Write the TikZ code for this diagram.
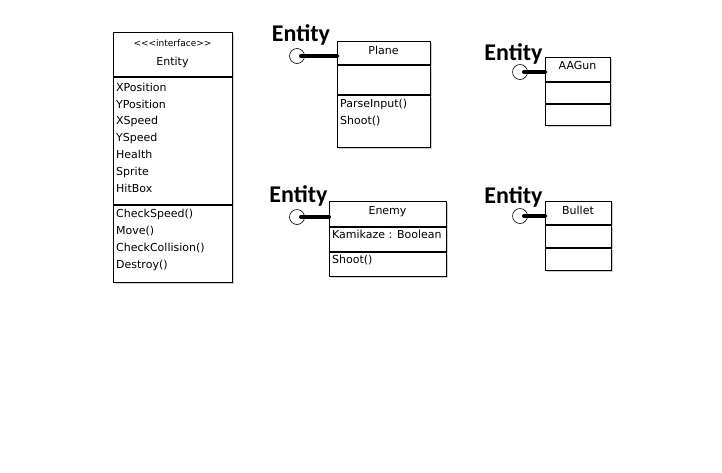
\documentclass[tikz,border=0pt]{standalone}
\usepackage{fontspec}
\setmainfont{DejaVu Sans}
\newfontfamily\entityfont{Carlito}
\usetikzlibrary{positioning,shadows}

\tikzset{
  part/.style={draw, line width=0.8pt, fill=white, rectangle, inner sep=0pt,
    drop shadow={shadow xshift=1.5pt, shadow yshift=-1.5pt, fill=black!40}},
  txt/.style={anchor=base west, inner sep=0pt, align=left},
  title/.style={anchor=base, inner sep=0pt},
  ball/.style={draw, line width=0.6pt, circle, fill=white, minimum size=15pt, inner sep=0pt},
  stick/.style={line width=4pt, line cap=round},
  entitytag/.style={anchor=base, inner sep=0pt, font=\entityfont\bfseries\fontsize{24}{28}\selectfont}
}

\begin{document}
\begin{tikzpicture}[x=1pt,y=-1pt,font=\fontsize{11}{16.8}\selectfont]
\useasboundingbox (0,0) rectangle (722,472);

% interface Entity
\node(IfaceHead)[part, minimum width=119, minimum height=44, anchor=north west] at (113,32) {};
\node(IfaceAttr)[part, minimum width=119, minimum height=127, below=0pt of IfaceHead] {};
\node(IfaceOps)[part, minimum width=119, minimum height=77, below=0pt of IfaceAttr] {};
\node(IfaceStereo)[title, font=\fontsize{9}{10}\selectfont] at (172.5,46)
  {<\kern0pt<\kern0pt<interface>\kern0pt>};
\node(IfaceName)[title] at (172.5,65) {Entity};
\node(IfaceAttrTxt)[txt] at (116,192)
  {XPosition\\YPosition\\XSpeed\\YSpeed\\Health\\Sprite\\HitBox};
\node(IfaceOpsTxt)[txt] at (116,268)
  {CheckSpeed()\\Move()\\CheckCollision()\\Destroy()};

% Plane
\node(PlaneHead)[part, minimum width=93, minimum height=23, anchor=north west] at (337,41) {};
\node(PlaneAttr)[part, minimum width=93, minimum height=29, below=0pt of PlaneHead] {};
\node(PlaneOps)[part, minimum width=93, minimum height=52, below=0pt of PlaneAttr] {};
\node(PlaneName)[title] at (383.5,54) {Plane};
\node(PlaneOpsTxt)[txt] at (340,124) {ParseInput()\\Shoot()};
\node(PlaneBall)[ball] at (297,56) {};
\node(PlaneTag)[entitytag] at (301,41) {Entity};
\draw[stick] ([xshift=4pt]PlaneBall.center) -- (PlaneBall -| PlaneHead.west);

% AAGun
\node(GunHead)[part, minimum width=65, minimum height=24, anchor=north west] at (545,57) {};
\node(GunAttr)[part, minimum width=65, minimum height=21, below=0pt of GunHead] {};
\node(GunOps)[part, minimum width=65, minimum height=21, below=0pt of GunAttr] {};
\node(GunName)[title] at (577.5,69) {AAGun};
\node(GunBall)[ball] at (520,72) {};
\node(GunTag)[entitytag] at (513.5,60) {Entity};
\draw[stick] ([xshift=4pt]GunBall.center) -- (GunBall -| GunHead.west);

% Enemy
\node(EnemyHead)[part, minimum width=117, minimum height=25, anchor=north west] at (329,201) {};
\node(EnemyAttr)[part, minimum width=117, minimum height=24, below=0pt of EnemyHead] {};
\node(EnemyOps)[part, minimum width=117, minimum height=24, below=0pt of EnemyAttr] {};
\node(EnemyName)[title] at (387.5,214) {Enemy};
\node(EnemyAttrTxt)[txt] at (332,238) {Kamikaze : Boolean};
\node(EnemyOpsTxt)[txt] at (332,263) {Shoot()};
\node(EnemyBall)[ball] at (297,217) {};
\node(EnemyTag)[entitytag] at (298.5,202) {Entity};
\draw[stick] ([xshift=4pt]EnemyBall.center) -- (EnemyBall -| EnemyHead.west);

% Bullet
\node(BulletHead)[part, minimum width=66, minimum height=23, anchor=north west] at (545,201) {};
\node(BulletAttr)[part, minimum width=66, minimum height=22, below=0pt of BulletHead] {};
\node(BulletOps)[part, minimum width=66, minimum height=22, below=0pt of BulletAttr] {};
\node(BulletName)[title] at (578,214) {Bullet};
\node(BulletBall)[ball] at (520,216) {};
\node(BulletTag)[entitytag] at (513.5,203) {Entity};
\draw[stick] ([xshift=4pt]BulletBall.center) -- (BulletBall -| BulletHead.west);
\end{tikzpicture}
\end{document}
